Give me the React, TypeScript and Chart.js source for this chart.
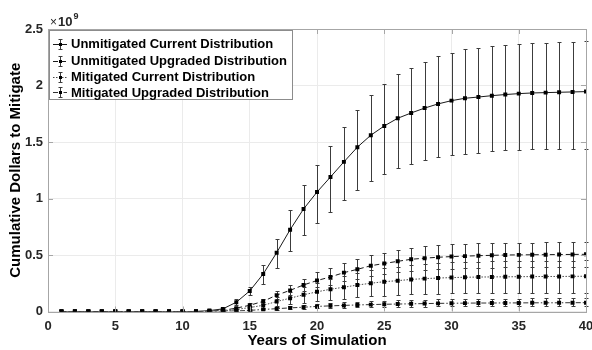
import React, { useEffect, useRef } from "react";
import { Chart, registerables } from "chart.js";

Chart.register(...registerables);

const YEARS = Array.from({ length: 40 }, (_, i) => i + 1);

const Z11 = [0, 0, 0, 0, 0, 0, 0, 0, 0, 0, 0];

// Unmitigated Current Distribution (x1e9)
const ucMean = [...Z11, 0.008, 0.023, 0.082, 0.182, 0.332, 0.52, 0.724, 0.907, 1.057, 1.19, 1.324, 1.454, 1.56, 1.642, 1.71, 1.757, 1.8, 1.837, 1.866, 1.887, 1.898, 1.91, 1.92, 1.928, 1.934, 1.937, 1.94, 1.943, 1.946];
const ucHi = [...Z11, 0.01, 0.03, 0.109, 0.22, 0.409, 0.644, 0.895, 1.117, 1.3, 1.469, 1.631, 1.787, 1.92, 2.017, 2.099, 2.155, 2.211, 2.26, 2.29, 2.32, 2.335, 2.352, 2.361, 2.37, 2.375, 2.378, 2.381, 2.384, 2.39];
const ucLo = [...Z11, 0.006, 0.017, 0.06, 0.144, 0.241, 0.383, 0.535, 0.674, 0.787, 0.883, 0.983, 1.074, 1.154, 1.218, 1.266, 1.301, 1.337, 1.363, 1.381, 1.395, 1.407, 1.419, 1.425, 1.43, 1.436, 1.439, 1.442, 1.442, 1.442];

// Unmitigated Upgraded Distribution
const uuMean = [...Z11, 0.002, 0.01, 0.03, 0.055, 0.09, 0.145, 0.187, 0.235, 0.274, 0.306, 0.344, 0.373, 0.405, 0.425, 0.444, 0.462, 0.472, 0.48, 0.486, 0.49, 0.494, 0.497, 0.5, 0.501, 0.502, 0.503, 0.504, 0.505, 0.506];
const uuHi = [...Z11, 0.003, 0.013, 0.04, 0.072, 0.115, 0.182, 0.233, 0.292, 0.35, 0.385, 0.428, 0.462, 0.496, 0.522, 0.544, 0.563, 0.576, 0.586, 0.593, 0.598, 0.602, 0.605, 0.608, 0.609, 0.61, 0.611, 0.612, 0.613, 0.614];
const uuLo = [...Z11, 0.001, 0.007, 0.022, 0.04, 0.068, 0.112, 0.146, 0.184, 0.214, 0.238, 0.268, 0.292, 0.317, 0.333, 0.346, 0.36, 0.368, 0.374, 0.378, 0.382, 0.386, 0.388, 0.39, 0.391, 0.392, 0.392, 0.393, 0.394, 0.395];

// Mitigated Current Distribution
const mcMean = [...Z11, 0.001, 0.006, 0.018, 0.035, 0.055, 0.088, 0.118, 0.148, 0.174, 0.197, 0.215, 0.234, 0.25, 0.264, 0.273, 0.284, 0.291, 0.296, 0.3, 0.303, 0.305, 0.306, 0.307, 0.308, 0.309, 0.31, 0.31, 0.311, 0.312];
const mcHi = [...Z11, 0.0015, 0.009, 0.026, 0.051, 0.08, 0.128, 0.171, 0.215, 0.252, 0.286, 0.312, 0.339, 0.363, 0.383, 0.396, 0.412, 0.422, 0.429, 0.435, 0.439, 0.442, 0.444, 0.445, 0.447, 0.448, 0.45, 0.45, 0.451, 0.452];
const mcLo = [...Z11, 0.0005, 0.003, 0.01, 0.019, 0.03, 0.047, 0.063, 0.079, 0.093, 0.105, 0.115, 0.125, 0.133, 0.141, 0.146, 0.151, 0.155, 0.158, 0.16, 0.162, 0.163, 0.163, 0.164, 0.164, 0.165, 0.165, 0.165, 0.166, 0.166];

// Mitigated Upgraded Distribution
const muMean = [...Z11, 0, 0.002, 0.005, 0.01, 0.018, 0.025, 0.032, 0.038, 0.045, 0.05, 0.054, 0.058, 0.061, 0.064, 0.066, 0.068, 0.07, 0.072, 0.073, 0.074, 0.075, 0.075, 0.076, 0.076, 0.077, 0.077, 0.077, 0.078, 0.078];
const muHi = [...Z11, 0, 0.003, 0.008, 0.015, 0.027, 0.038, 0.048, 0.057, 0.068, 0.075, 0.081, 0.087, 0.092, 0.096, 0.099, 0.102, 0.105, 0.108, 0.11, 0.111, 0.113, 0.113, 0.114, 0.114, 0.116, 0.116, 0.116, 0.117, 0.117];
const muLo = [...Z11, 0, 0.001, 0.003, 0.006, 0.011, 0.016, 0.02, 0.024, 0.028, 0.031, 0.033, 0.036, 0.038, 0.04, 0.041, 0.042, 0.043, 0.045, 0.045, 0.046, 0.047, 0.047, 0.047, 0.047, 0.048, 0.048, 0.048, 0.048, 0.048];

const SERIES_NAMES = [
  "Unmitigated Current Distribution",
  "Unmitigated Upgraded Distribution",
  "Mitigated Current Distribution",
  "Mitigated Upgraded Distribution",
];
const MEANS = [ucMean, uuMean, mcMean, muMean];
const HIS = [ucHi, uuHi, mcHi, muHi];
const LOS = [ucLo, uuLo, mcLo, muLo];
const DASHES: number[][] = [[], [5, 3], [1.5, 1.5], [5, 2, 1.5, 2]];
const LINE_COLORS = ["#1a1a1a", "#1a1a1a", "#4a4a4a", "#333333"];

const X_TICKS = [0, 5, 10, 15, 20, 25, 30, 35, 40];
const Y_TICKS = [0, 0.5, 1, 1.5, 2, 2.5];

const FONT = "'Liberation Sans', Arial, sans-serif";
const BAR_COLOR = "#3c3c3c";
const BOX_COLOR = "#a6a6a6";

function drawErrBar(ctx: CanvasRenderingContext2D, px: number, top: number, bot: number, cap: number) {
  ctx.beginPath();
  ctx.moveTo(px, top);
  ctx.lineTo(px, bot);
  ctx.moveTo(px - cap, top);
  ctx.lineTo(px + cap, top);
  ctx.moveTo(px - cap, bot);
  ctx.lineTo(px + cap, bot);
  ctx.stroke();
}

const errorBarsPlugin = {
  id: "errbars",
  beforeDatasetsDraw(chart: any) {
    const { ctx, scales } = chart;
    const x = scales.x;
    const y = scales.y;
    ctx.save();
    ctx.strokeStyle = BAR_COLOR;
    ctx.lineWidth = 1;
    for (let s = 0; s < MEANS.length; s++) {
      YEARS.forEach((yr, i) => {
        const px = Math.round(x.getPixelForValue(yr)) + 0.5;
        const top = Math.round(y.getPixelForValue(HIS[s][i])) + 0.5;
        const bot = Math.round(y.getPixelForValue(LOS[s][i])) + 0.5;
        drawErrBar(ctx, px, top, bot, 2);
      });
    }
    ctx.restore();
  },
  afterDraw(chart: any) {
    const { ctx, chartArea } = chart;
    const { left, right, top, bottom } = chartArea;
    const x = chart.scales.x;
    const y = chart.scales.y;
    ctx.save();
    // box
    ctx.strokeStyle = BOX_COLOR;
    ctx.lineWidth = 1;
    ctx.strokeRect(Math.round(left) + 0.5, Math.round(top) + 0.5, Math.round(right - left), Math.round(bottom - top));
    // inward ticks
    ctx.beginPath();
    X_TICKS.forEach((v) => {
      const px = Math.round(x.getPixelForValue(v)) + 0.5;
      ctx.moveTo(px, bottom);
      ctx.lineTo(px, bottom - 5);
      ctx.moveTo(px, top);
      ctx.lineTo(px, top + 5);
    });
    Y_TICKS.forEach((v) => {
      const py = Math.round(y.getPixelForValue(v)) + 0.5;
      ctx.moveTo(left, py);
      ctx.lineTo(left + 5, py);
      ctx.moveTo(right, py);
      ctx.lineTo(right - 5, py);
    });
    ctx.stroke();

    // exponent label
    ctx.fillStyle = "#262626";
    ctx.textBaseline = "alphabetic";
    ctx.textAlign = "left";
    ctx.font = `12px ${FONT}`;
    ctx.fillText("\u00d7", 50, 26);
    const wx = ctx.measureText("\u00d7").width;
    ctx.font = `bold 13px ${FONT}`;
    ctx.fillText("10", 50 + wx + 1, 26);
    const w10 = ctx.measureText("10").width;
    ctx.font = `bold 9px ${FONT}`;
    ctx.fillText("9", 50 + wx + 1 + w10 + 1, 19);

    // legend
    const lx = 49.5, ly = 30.5, lw = 243, lh = 69;
    ctx.fillStyle = "#ffffff";
    ctx.fillRect(lx, ly, lw, lh);
    ctx.strokeStyle = "#8c8c8c";
    ctx.strokeRect(lx, ly, lw, lh);
    const rowY = [43.5, 60.5, 76.5, 92];
    ctx.font = `bold 13px ${FONT}`;
    ctx.textBaseline = "middle";
    for (let s = 0; s < SERIES_NAMES.length; s++) {
      const cy = rowY[s];
      ctx.strokeStyle = LINE_COLORS[s];
      ctx.lineWidth = 1;
      ctx.setLineDash(DASHES[s]);
      ctx.beginPath();
      ctx.moveTo(53, Math.round(cy) + 0.5);
      ctx.lineTo(67, Math.round(cy) + 0.5);
      ctx.stroke();
      ctx.setLineDash([]);
      ctx.strokeStyle = BAR_COLOR;
      drawErrBar(ctx, 60.5, Math.round(cy) - 4.5, Math.round(cy) + 5.5, 2);
      ctx.fillStyle = "#000";
      ctx.fillRect(59, Math.round(cy) - 1, 3, 3);
      ctx.fillStyle = "#000";
      ctx.fillText(SERIES_NAMES[s], 71, cy + 1);
    }
    ctx.restore();
  },
};

export default function App() {
  const canvasRef = useRef<HTMLCanvasElement | null>(null);

  useEffect(() => {
    const canvas = canvasRef.current;
    if (!canvas) return;
    const datasets = SERIES_NAMES.map((name, s) => ({
      label: name,
      data: YEARS.map((yr, i) => ({ x: yr, y: MEANS[s][i] })),
      borderColor: LINE_COLORS[s],
      backgroundColor: "#000000",
      borderWidth: 1,
      borderDash: DASHES[s],
      pointRadius: 2.8,
      pointStyle: "rect" as const,
      pointBackgroundColor: "#000000",
      pointBorderColor: "#000000",
      pointBorderWidth: 0,
      tension: 0,
      fill: false,
    }));
    const chart = new Chart(canvas, {
      type: "line",
      data: { datasets: datasets.slice().reverse() },
      options: {
        animation: false,
        responsive: true,
        maintainAspectRatio: false,
        layout: { padding: { left: 0, right: 6, top: 29, bottom: 0 } },
        plugins: {
          legend: { display: false },
          tooltip: { enabled: false },
        },
        scales: {
          x: {
            type: "linear",
            min: 0,
            max: 40,
            afterFit: (scale: any) => {
              scale.height = 38.5;
              scale.paddingLeft = 0;
              scale.paddingRight = 0;
            },
            afterBuildTicks: (scale: any) => {
              scale.ticks = X_TICKS.map((v) => ({ value: v }));
            },
            grid: { color: "#ebebeb", drawTicks: false },
            border: { display: false },
            ticks: {
              padding: 7,
              color: "#262626",
              font: { family: FONT, size: 13, weight: "bold" },
              maxRotation: 0,
            },
            title: {
              display: true,
              text: "Years of Simulation",
              color: "#000",
              font: { family: FONT, size: 15, weight: "bold" },
              padding: { top: 0, bottom: 0 },
            },
          },
          y: {
            type: "linear",
            min: 0,
            max: 2.5,
            afterFit: (scale: any) => {
              scale.width = 48;
              scale.paddingTop = 0;
              scale.paddingBottom = 0;
            },
            afterBuildTicks: (scale: any) => {
              scale.ticks = Y_TICKS.map((v) => ({ value: v }));
            },
            grid: { color: "#ebebeb", drawTicks: false },
            border: { display: false },
            ticks: {
              padding: 5,
              color: "#262626",
              font: { family: FONT, size: 13, weight: "bold" },
              callback: (v: any) => String(v),
            },
            title: {
              display: true,
              text: "Cumulative Dollars to Mitigate",
              color: "#000",
              font: { family: FONT, size: 15, weight: "bold" },
              padding: { top: 7, bottom: 0 },
            },
          },
        },
      },
      plugins: [errorBarsPlugin],
    });
    return () => chart.destroy();
  }, []);

  return (
    <div style={{ position: "fixed", left: 0, top: 0, width: 592, height: 350, background: "#fff" }}>
      <canvas ref={canvasRef} />
    </div>
  );
}
